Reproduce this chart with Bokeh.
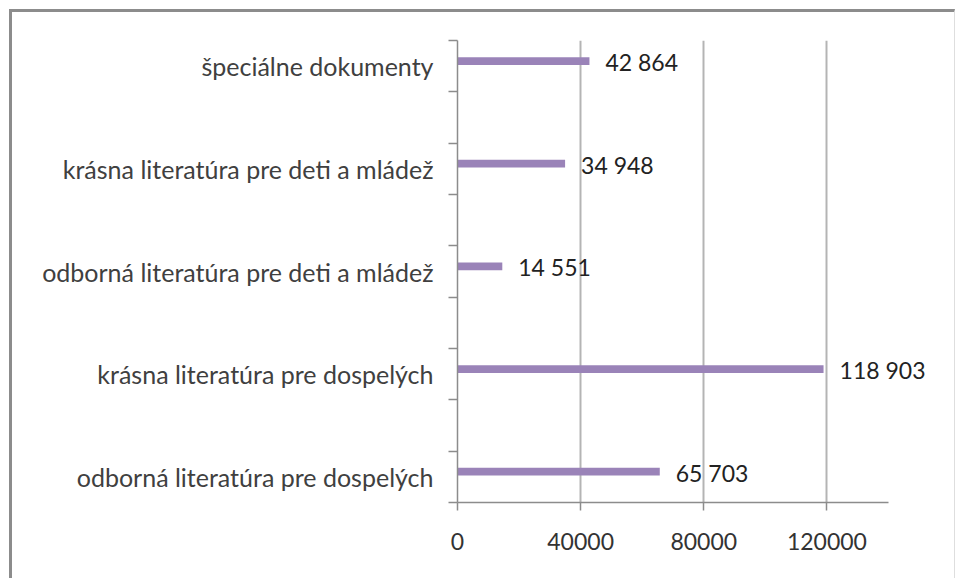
from bokeh.plotting import figure
from bokeh.models import FixedTicker, ColumnDataSource, Range1d, LabelSet, NumeralTickFormatter
from bokeh.core.properties import value
from bokeh.embed import file_html
from bokeh.resources import INLINE

# Data (bottom to top)
categories = [
    "odborná literatúra pre dospelých",
    "krásna literatúra pre dospelých",
    "odborná literatúra pre deti a mládež",
    "krásna literatúra pre deti a mládež",
    "špeciálne dokumenty",
]
values = [65703, 118903, 14551, 34948, 42864]
x_ticks = [0, 40000, 80000, 120000]
x_max = 140000

FONT = "Lato"

# layout (pixels)
CANVAS_W, CANVAS_H = 946, 569
FRAME_L, FRAME_T, FRAME_B_MARGIN, FRAME_R_MARGIN = 445, 28, 79, 8
AXIS_PX = 431  # pixel length of the value axis (0..x_max)
frame_w = CANVAS_W - FRAME_L - FRAME_R_MARGIN
x_end = x_max * frame_w / AXIS_PX

# each category occupies 2 slots, bars in slots 0,2,4,6,8
n_slots = 2 * len(categories) - 1
slot_centers = [2 * i + 0.5 for i in range(len(categories))]
bar_y = [c + 0.1 for c in slot_centers]
labels = [f"{v:,}".replace(",", " ") for v in values]

src = ColumnDataSource(dict(y=bar_y, v=values, lab=labels))

p = figure(width=CANVAS_W, height=CANVAS_H, output_backend="svg", toolbar_location=None,
           x_range=Range1d(0, x_end), y_range=Range1d(0, n_slots),
           min_border_left=FRAME_L, min_border_right=FRAME_R_MARGIN,
           min_border_top=FRAME_T, min_border_bottom=FRAME_B_MARGIN)
p.styles = {"margin-left": "9px", "margin-top": "9px",
            "border-left": "3px solid #8c8c8c", "border-top": "3px solid #8c8c8c",
            "border-right": "1px solid #dedede"}
p.outline_line_color = None
p.background_fill_color = "white"
p.border_fill_color = "white"

p.hbar(y="y", right="v", left=0, height=0.15, source=src,
       fill_color="#9a83b8", line_color=None)

lbl = LabelSet(x="v", y="y", text="lab", source=src, x_offset=16, y_offset=-1,
               text_font=value(FONT), text_font_size="23px", text_color="#222222",
               text_baseline="middle")
p.add_layout(lbl)

# X axis
p.xaxis.ticker = FixedTicker(ticks=x_ticks)
p.xaxis.formatter = NumeralTickFormatter(format="0")
p.xaxis.bounds = (0, x_max)
p.xaxis.axis_line_color = "#8c8c8c"
p.xaxis.axis_line_width = 1.5
p.xaxis.major_tick_line_color = "#8c8c8c"
p.xaxis.major_tick_line_width = 1.5
p.xaxis.major_tick_out = 8
p.xaxis.major_tick_in = 0
p.xaxis.minor_tick_line_color = None
p.xaxis.major_label_text_font = FONT
p.xaxis.major_label_text_font_size = "23px"
p.xaxis.major_label_text_color = "#333333"
p.xaxis.major_label_standoff = 22

# Y axis
p.yaxis.ticker = FixedTicker(ticks=slot_centers, minor_ticks=list(range(0, n_slots + 1)))
p.yaxis.major_label_overrides = {c: n for c, n in zip(slot_centers, categories)}
p.yaxis.axis_line_color = "#8c8c8c"
p.yaxis.axis_line_width = 1.5
p.yaxis.major_tick_line_color = None
p.yaxis.major_tick_out = 0
p.yaxis.major_tick_in = 0
p.yaxis.minor_tick_line_color = "#8c8c8c"
p.yaxis.minor_tick_line_width = 1.5
p.yaxis.minor_tick_out = 9
p.yaxis.minor_tick_in = 0
p.yaxis.major_label_text_font = FONT
p.yaxis.major_label_text_font_size = "25px"
p.yaxis.major_label_text_color = "#404040"
p.yaxis.major_label_standoff = 15

p.xgrid.ticker = FixedTicker(ticks=x_ticks[1:])
p.xgrid.grid_line_color = "#b4b4b4"
p.xgrid.grid_line_width = 2
p.ygrid.grid_line_color = None

open("out.html", "w").write(file_html(p, INLINE))
